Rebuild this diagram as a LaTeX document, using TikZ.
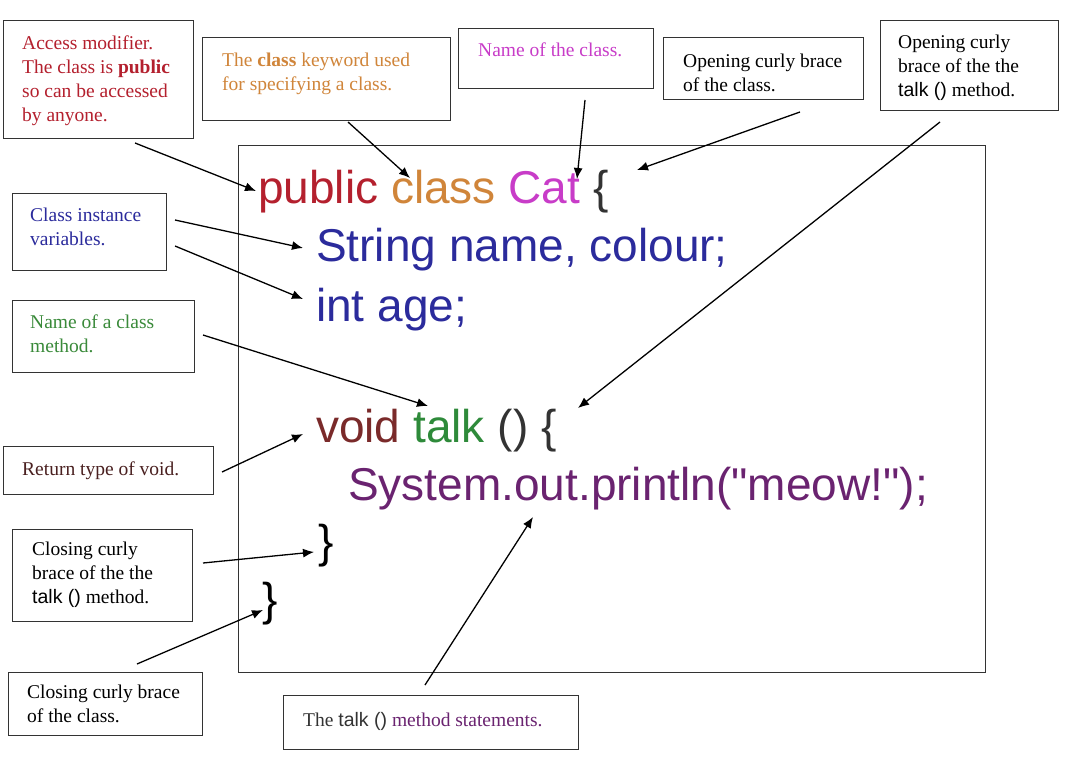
\documentclass[tikz,border=0pt]{standalone}
\usepackage{fontspec}
\setmainfont{Liberation Serif}
\setsansfont{Liberation Sans}
\newfontfamily\codefont{Liberation Sans}
\usetikzlibrary{arrows.meta}
\definecolor{cpublic}{HTML}{B4202E}
\definecolor{cclass}{HTML}{D0853A}
\definecolor{ccat}{HTML}{C83CC8}
\definecolor{cvars}{HTML}{2B2B9C}
\definecolor{cvoid}{HTML}{7A2A2A}
\definecolor{ctalk}{HTML}{2E8A3A}
\definecolor{csys}{HTML}{6A2370}
\definecolor{cgrn}{HTML}{3A8A3A}
\definecolor{cret}{HTML}{4A2020}
\definecolor{cbox}{HTML}{333333}
\tikzset{
  lbox/.style={draw=cbox, line width=1.4pt, inner sep=0pt, anchor=north west},
  lbl/.style={font=\fontsize{19.5}{24}\selectfont, align=left, inner sep=0pt, anchor=north west},
  code/.style={font=\fontsize{46}{50}\codefont, inner sep=0pt, anchor=base west},
  pointer/.style={line width=1.3pt, -{Latex[length=11pt,width=9pt]}},
}
\newcommand{\tk}{{\sffamily talk ()}}
\begin{document}
\begin{tikzpicture}[x=1pt,y=-1pt]
\useasboundingbox (0,0) rectangle (1068,759);
\fill[white] (0,0) rectangle (1068,759);

% main code box
\node[lbox, minimum width=747pt, minimum height=527pt] (codebox) at (238,145) {};

% code lines
\node[code] (l1) at (258,204) {\textcolor{cpublic}{public} \textcolor{cclass}{class} \textcolor{ccat}{Cat} \textcolor{cbox}{\{}};
\node[code, text=cvars] (l2) at (316,262) {String name, colour;};
\node[code, text=cvars] (l3) at (316,322) {int age;};
\node[code] (l4) at (316,442) {\textcolor{cvoid}{void} \textcolor{ctalk}{talk} \textcolor{cbox}{() \{}};
\node[code, text=csys] (l5) at (348,500) {System.out.println("meow!");};
\node[code] (l6) at (318,557) {\}};
\node[code] (l7) at (262,615) {\}};

% label boxes
\node[lbox, minimum width=190pt, minimum height=118pt] (b1) at (3,20) {};
\node[lbl, text=cpublic] (t1) at (22,36) {Access modifier.\\The class is \textbf{public}\\so can be accessed\\by anyone.};

\node[lbox, minimum width=248pt, minimum height=83pt] (b2) at (202,37) {};
\node[lbl, text=cclass] (t2) at (222,53) {The \textbf{class} keyword used\\for specifying a class.};

\node[lbox, minimum width=195pt, minimum height=60pt] (b3) at (458,28) {};
\node[lbl, text=ccat] (t3) at (478,43) {Name of the class.};

\node[lbox, minimum width=200pt, minimum height=62pt] (b4) at (663,37) {};
\node[lbl] (t4) at (683,54) {Opening curly brace\\of the class.};

\node[lbox, minimum width=178pt, minimum height=90pt] (b5) at (880,20) {};
\node[lbl] (t5) at (898,35) {Opening curly\\brace of the the\\\tk{} method.};

\node[lbox, minimum width=154pt, minimum height=77pt] (b6) at (12,193) {};
\node[lbl, text=cvars] (t6) at (30,208) {Class instance\\variables.};

\node[lbox, minimum width=182pt, minimum height=72pt] (b7) at (12,300) {};
\node[lbl, text=cgrn] (t7) at (30,315) {Name of a class\\method.};

\node[lbox, minimum width=210pt, minimum height=48pt] (b8) at (3,446) {};
\node[lbl, text=cret] (t8) at (22,462) {Return type of void.};

\node[lbox, minimum width=180pt, minimum height=92pt] (b9) at (12,529) {};
\node[lbl] (t9) at (32,542) {Closing curly\\brace of the the\\\tk{} method.};

\node[lbox, minimum width=194pt, minimum height=63pt] (b10) at (8,672) {};
\node[lbl] (t10) at (27,685) {Closing curly brace\\of the class.};

\node[lbox, minimum width=295pt, minimum height=54pt] (b11) at (283,695) {};
\node[lbl, text=csys] (t11) at (303,712) {\textcolor{cbox}{The \tk{}} method statements.};

% connector end points
\coordinate (s1) at (135,143);   \coordinate (e1) at (256,191);
\coordinate (s2) at (348,122);   \coordinate (e2) at (410,178);
\coordinate (s3) at (585,100);   \coordinate (e3) at (577,179);
\coordinate (s4) at (800,112);   \coordinate (e4) at (637,170);
\coordinate (s5) at (940,122);   \coordinate (e5) at (578,408);
\coordinate (s6) at (175,220);   \coordinate (e6) at (303,248);
\coordinate (s7) at (175,246);   \coordinate (e7) at (303,299);
\coordinate (s8) at (203,335);   \coordinate (e8) at (428,406);
\coordinate (s9) at (222,472);   \coordinate (e9) at (303,434);
\coordinate (s10) at (203,563);  \coordinate (e10) at (314,552);
\coordinate (s11) at (137,664);  \coordinate (e11) at (263,610);
\coordinate (s12) at (425,685);  \coordinate (e12) at (533,517);

\foreach \i in {1,...,12} { \draw[pointer] (s\i) -- (e\i); }
\end{tikzpicture}
\end{document}
